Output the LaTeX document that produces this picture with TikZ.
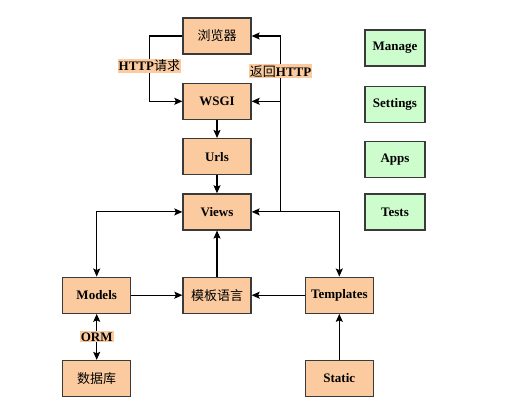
\documentclass[tikz,border=0pt]{standalone}
\usepackage{fontspec}
\setmainfont{Liberation Serif}
\newfontfamily\cjk{Noto Sans CJK SC}
\usetikzlibrary{positioning,arrows.meta}
\definecolor{boxorange}{HTML}{FBCB9F}
\definecolor{boxgreen}{HTML}{CDFCCD}
\definecolor{boxline}{HTML}{3A3A3A}
\tikzset{
  obox/.style={rectangle,draw=boxline,fill=boxorange,line width=1.3pt,
    minimum width=68pt,minimum height=36pt,inner sep=0pt,
    font=\fontsize{13}{15}\selectfont\bfseries},
  gbox/.style={obox,fill=boxgreen,minimum width=60pt,minimum height=36pt},
  lbl/.style={fill=boxorange,inner sep=1pt,font=\fontsize{13}{15}\selectfont\bfseries},
  arr/.style={-{Stealth[length=8pt,width=7pt,inset=1.5pt]},line width=1.1pt,draw=black},
  arrboth/.style={{Stealth[length=8pt,width=7pt,inset=1.5pt]}-{Stealth[length=8pt,width=7pt,inset=1.5pt]},line width=1.1pt,draw=black}
}
\begin{document}
\begin{tikzpicture}
  \useasboundingbox (0,0) rectangle (518pt,-401pt);

  % main column
  \node[obox] (browser) at (217pt,-36pt) {\cjk\mdseries 浏览器};
  \node[obox, below=28pt of browser] (wsgi) {WSGI};
  \node[obox, below=18pt of wsgi] (urls) {Urls};
  \node[obox, below=18pt of urls] (views) {Views};
  \node[obox, below=46pt of views] (tmpllang) {\cjk\mdseries 模板语言};
  \node[obox, left=51pt of tmpllang] (models) {Models};
  \node[obox, right=53pt of tmpllang] (templates) {Templates};
  \node[obox, below=46pt of models] (database) {\cjk\mdseries 数据库};
  \node[obox, below=46pt of templates] (static) {Static};

  % side column
  \node[gbox] (manage) at (395pt,-48pt) {Manage};
  \node[gbox, below=19pt of manage] (settings) {Settings};
  \node[gbox, below=18pt of settings] (apps) {Apps};
  \node[gbox, below=15pt of apps] (tests) {Tests};

  % request and response
  \draw[arr] (browser.west) -| node[lbl, pos=0.73] {HTTP{\cjk\mdseries 请求}}
    ([xshift=-33pt]wsgi.west) -- (wsgi.west);
  \draw[arr] ([xshift=29pt]views.east) |- (browser.east)
    node[lbl, pos=0.4] {{\cjk\mdseries 返回}HTTP};
  \draw[arr] ([xshift=29pt]wsgi.east) -- (wsgi.east);

  \draw[arr] (wsgi) -- (urls);
  \draw[arr] (urls) -- (views);
  \draw[arrboth] (views.east) -| (templates.north);
  \draw[arrboth] (views.west) -| (models.north);
  \draw[arr] (tmpllang) -- (views);
  \draw[arr] (models) -- (tmpllang);
  \draw[arr] (templates) -- (tmpllang);
  \draw[arr] (static) -- (templates);
  \draw[arrboth] (models) -- (database) node[lbl, midway] {ORM};
\end{tikzpicture}
\end{document}
